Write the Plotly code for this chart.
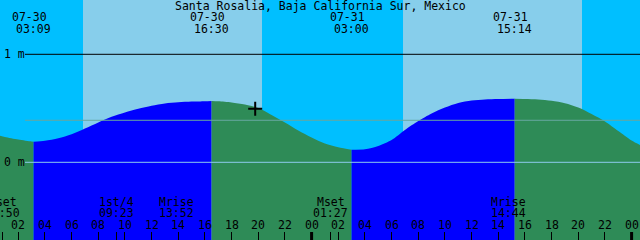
import plotly.graph_objects as go

# ---------------- data (hours counted from 07-30 00:00) ----------------
T0 = 0.63
SPAN = 48.0

tide_hours = [0.63, 1, 2, 3, 3.15, 4, 5, 6, 7, 8, 9, 10, 11, 12, 13, 14, 15, 16,
              16.5, 17, 18, 19, 20, 21, 22, 23, 24, 25, 26, 27, 28, 29, 30, 31,
              32, 33, 34, 35, 36, 37, 38, 39.233, 40, 41, 42, 43, 44, 45, 46,
              47, 48, 48.63]
tide_m = [0.246, 0.234, 0.210, 0.192, 0.191, 0.199, 0.222, 0.259, 0.312, 0.369,
          0.421, 0.461, 0.495, 0.523, 0.544, 0.555, 0.562, 0.566, 0.568, 0.565,
          0.554, 0.535, 0.503, 0.438, 0.369, 0.294, 0.230, 0.174, 0.139, 0.117,
          0.120, 0.151, 0.206, 0.299, 0.382, 0.452, 0.507, 0.549, 0.572, 0.582,
          0.586, 0.589, 0.587, 0.582, 0.569, 0.547, 0.507, 0.447, 0.378, 0.290,
          0.202, 0.160]

extreme_hours = [3.15, 16.5, 27.0, 39.233]
extreme_dates = ["07-30", "07-30", "07-31", "07-31"]
extreme_times = ["03:09", "16:30", "03:00", "15:14"]

day_start = [6.855, 30.856]
day_end = [20.28, 44.28]

moon_names = ["Mset", "1st/4", "Mrise", "Mset", "Mrise"]
moon_times = ["00:50", "09:23", "13:52", "01:27", "14:44"]
moon_hours = [0.833, 9.383, 13.867, 25.45, 38.733]
moon_tick_hours = [0.833, 9.383, 25.45]

hour_ticks = [2, 4, 6, 8, 10, 12, 14, 16, 18, 20, 22, 24,
              26, 28, 30, 32, 34, 36, 38, 40, 42, 44, 46, 48]
hour_labels = ["02", "04", "06", "08", "10", "12", "14", "16", "18", "20", "22", "00",
               "02", "04", "06", "08", "10", "12", "14", "16", "18", "20", "22", "00"]
midnight_hours = [24, 48]

mean_level = 0.389
now_hour = [19.77]
now_m = [0.497]

title = "Santa Rosalia, Baja California Sur, Mexico"

# ---------------- style ----------------
W, H = 640, 240
YMIN, YMAX = -0.7194, 1.5028
NIGHT = "#00BFFF"
DAY = "#87CEEB"
RISE = "#0000FF"
FALL = "#2E8B57"
FONT = dict(family="DejaVu Sans Mono", size=11.5, color="black")


def py(px):
    return 1 - px / H


fig = go.Figure()

bounds = [T0] + extreme_hours + [T0 + SPAN]
for i in range(len(bounds) - 1):
    b0, b1 = bounds[i], bounds[i + 1]
    xs = [t for t in tide_hours if b0 - 1e-6 <= t <= b1 + 1e-6]
    ys = [m for t, m in zip(tide_hours, tide_m) if b0 - 1e-6 <= t <= b1 + 1e-6]
    color = RISE if ys[-1] > ys[0] else FALL
    fig.add_trace(go.Scatter(x=[xs[0], xs[-1]], y=[YMIN, YMIN], mode="lines",
                             line=dict(width=0), hoverinfo="skip", showlegend=False))
    fig.add_trace(go.Scatter(x=xs, y=ys, mode="lines",
                             line=dict(width=0, shape="spline", smoothing=0.8),
                             fill="tonexty", fillcolor=color,
                             hoverinfo="skip", showlegend=False))

fig.add_trace(go.Scatter(x=now_hour, y=now_m, mode="markers",
                         marker=dict(symbol="cross-thin", size=10,
                                     line=dict(width=2, color="black")),
                         hoverinfo="skip", showlegend=False))

shapes = []
for a, b in zip(day_start, day_end):
    shapes.append(dict(type="rect", xref="x", yref="paper", x0=a, x1=b, y0=0, y1=1,
                       fillcolor=DAY, line=dict(width=0), layer="below"))
x_left = 25 / W
shapes.append(dict(type="line", xref="paper", yref="y", x0=x_left, x1=1, y0=1, y1=1,
                   line=dict(color="black", width=1), layer="above"))
shapes.append(dict(type="line", xref="paper", yref="y", x0=x_left, x1=1,
                   y0=mean_level, y1=mean_level,
                   line=dict(color="#66a8a0", width=1), layer="above"))
shapes.append(dict(type="line", xref="paper", yref="y", x0=x_left, x1=1, y0=0, y1=0,
                   line=dict(color="#8ecbee", width=1), layer="above"))
for m in midnight_hours:
    shapes.append(dict(type="line", xref="x", yref="paper", x0=m, x1=m, y0=0, y1=8 / H,
                       line=dict(color="black", width=3), layer="above"))

ann = []
ann.append(dict(text=title, x=0.5, y=py(5.5), xref="paper", yref="paper",
                xanchor="center", yanchor="middle", showarrow=False, font=FONT))
for t, d, s in zip(extreme_hours, extreme_dates, extreme_times):
    ann.append(dict(text=d, x=t, y=py(17.5), xref="x", yref="paper", xshift=-4.5,
                    xanchor="center", yanchor="middle", showarrow=False, font=FONT))
    ann.append(dict(text=s, x=t, y=py(29.2), xref="x", yref="paper",
                    xanchor="center", yanchor="middle", showarrow=False, font=FONT))
for t, n, s in zip(moon_hours, moon_names, moon_times):
    ann.append(dict(text=n, x=t, y=py(202), xref="x", yref="paper",
                    xanchor="center", yanchor="middle", showarrow=False, font=FONT))
    ann.append(dict(text=s, x=t, y=py(213.3), xref="x", yref="paper",
                    xanchor="center", yanchor="middle", showarrow=False, font=FONT))
for t, s in zip(hour_ticks, hour_labels):
    ann.append(dict(text=s, x=t, y=py(225.3), xref="x", yref="paper",
                    xanchor="center", yanchor="middle", showarrow=False, font=FONT))
ann.append(dict(text="1 m", x=2 / W, y=1, xref="paper", yref="y",
                xanchor="left", yanchor="middle", showarrow=False, font=FONT))
ann.append(dict(text="0 m", x=2 / W, y=0, xref="paper", yref="y",
                xanchor="left", yanchor="middle", showarrow=False, font=FONT))

fig.update_layout(
    width=W, height=H,
    margin=dict(l=0, r=0, t=0, b=0, pad=0),
    paper_bgcolor=NIGHT, plot_bgcolor=NIGHT,
    showlegend=False,
    shapes=shapes,
    annotations=ann,
    xaxis=dict(range=[T0, T0 + SPAN], showgrid=False, zeroline=False,
               showticklabels=False, showline=False, ticks="inside", ticklen=8,
               tickwidth=1, tickcolor="black",
               tickmode="array", tickvals=hour_ticks + moon_tick_hours,
               fixedrange=True),
    yaxis=dict(range=[YMIN, YMAX], visible=False, fixedrange=True),
)

fig.write_html("out.html", config={"displayModeBar": False})
